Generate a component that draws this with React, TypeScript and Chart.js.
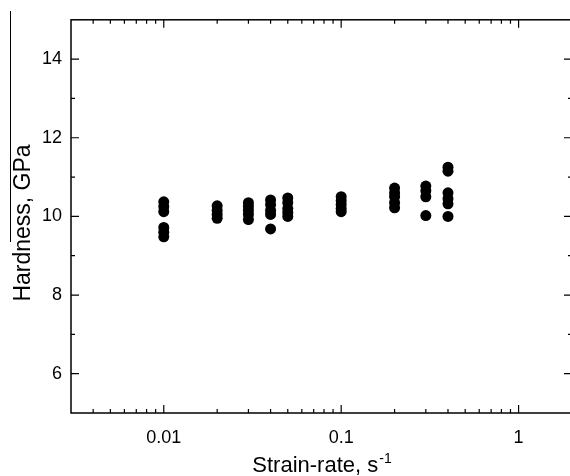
import React, { useEffect, useRef } from "react";
import { Chart, registerables } from "chart.js";

Chart.register(...registerables);

// Strain-rate categories (s^-1)
const strainRates = [0.01, 0.02, 0.03, 0.04, 0.05, 0.1, 0.2, 0.3, 0.4];
// Hardness values (GPa) measured at each strain rate
const h001 = [10.37, 10.25, 10.12, 9.72, 9.6, 9.48];
const h002 = [10.27, 10.15, 10.05, 9.95];
const h003 = [10.35, 10.25, 10.15, 10.05, 9.92];
const h004 = [10.42, 10.3, 10.15, 10.05, 9.68];
const h005 = [10.47, 10.35, 10.2, 10.1, 10.0];
const h010 = [10.5, 10.4, 10.3, 10.2, 10.12];
const h020 = [10.72, 10.6, 10.5, 10.35, 10.22];
const h030 = [10.77, 10.65, 10.5, 10.02];
const h040 = [11.25, 11.15, 10.6, 10.45, 10.32, 10.0];
const hardnessSets = [h001, h002, h003, h004, h005, h010, h020, h030, h040];

const xTickValues = [0.01, 0.1, 1];
const xTickLabels = ["0.01", "0.1", "1"];
const xMinorTicks = [
  0.004, 0.005, 0.006, 0.007, 0.008, 0.009,
  0.02, 0.03, 0.04, 0.05, 0.06, 0.07, 0.08, 0.09,
  0.2, 0.3, 0.4, 0.5, 0.6, 0.7, 0.8, 0.9,
];
const yTickValues = [6, 8, 10, 12, 14];
const yMinorTicks = [7, 9, 11, 13];

const xTitle = "Strain-rate, s";
const xTitleSup = "-1";
const yTitle = "Hardness, GPa";

const FONT = "'Liberation Sans', Arial, sans-serif";

export default function App() {
  const ref = useRef<HTMLCanvasElement | null>(null);

  useEffect(() => {
    document.body.style.margin = "0";
    const canvas = ref.current;
    if (!canvas) return;

    const points: { x: number; y: number }[] = [];
    strainRates.forEach((r, i) => {
      hardnessSets[i].forEach((h) => points.push({ x: r, y: h }));
    });

    const framePlugin = {
      id: "frame",
      afterDraw(chart: any) {
        const ctx = chart.ctx;
        const { left, right, top, bottom } = chart.chartArea;
        const xs = chart.scales.x;
        const ys = chart.scales.y;
        ctx.save();
        ctx.strokeStyle = "#000";
        ctx.lineWidth = 1.5;
        ctx.strokeRect(left, top, right - left, bottom - top);
        ctx.lineWidth = 1.2;
        ctx.beginPath();
        const xt = (v: number, len: number) => {
          const px = xs.getPixelForValue(v);
          ctx.moveTo(px, bottom);
          ctx.lineTo(px, bottom - len);
          ctx.moveTo(px, top);
          ctx.lineTo(px, top + len);
        };
        xTickValues.forEach((v) => xt(v, 8));
        xMinorTicks.forEach((v) => xt(v, 4));
        const yt = (v: number, len: number) => {
          const py = ys.getPixelForValue(v);
          ctx.moveTo(left, py);
          ctx.lineTo(left + len, py);
          ctx.moveTo(right, py);
          ctx.lineTo(right - len, py);
        };
        yTickValues.forEach((v) => yt(v, 8));
        yMinorTicks.forEach((v) => yt(v, 4));
        ctx.stroke();

        // axis titles
        ctx.fillStyle = "#000";
        ctx.textBaseline = "alphabetic";
        ctx.font = `22px ${FONT}`;
        const mainW = ctx.measureText(xTitle).width;
        ctx.font = `14px ${FONT}`;
        const supW = ctx.measureText(xTitleSup).width;
        const cx = (left + right) / 2;
        const startX = cx - (mainW + supW) / 2;
        const baseY = 472;
        ctx.font = `22px ${FONT}`;
        ctx.textAlign = "left";
        ctx.fillText(xTitle, startX, baseY);
        ctx.font = `14px ${FONT}`;
        ctx.fillText(xTitleSup, startX + mainW + 1, baseY - 9);

        ctx.save();
        ctx.translate(30, 223);
        ctx.rotate(-Math.PI / 2);
        ctx.font = `23px ${FONT}`;
        ctx.textAlign = "center";
        ctx.fillText(yTitle, 0, 0);
        ctx.restore();
        ctx.restore();
      },
    };

    const chart = new Chart(canvas, {
      type: "scatter",
      data: {
        datasets: [
          {
            data: points,
            backgroundColor: "#000",
            borderColor: "#000",
            pointRadius: 5.5,
            pointHoverRadius: 5.5,
            borderWidth: 0,
          },
        ],
      },
      options: {
        animation: false,
        responsive: false,
        devicePixelRatio: 1,
        layout: { padding: { top: 12, right: 8, left: 0, bottom: 0 } },
        plugins: { legend: { display: false }, tooltip: { enabled: false } },
        scales: {
          x: {
            type: "logarithmic",
            min: 0.003,
            max: 2,
            grid: { display: false, drawTicks: false },
            border: { display: false },
            afterBuildTicks: (s: any) => {
              s.ticks = xTickValues.map((v) => ({ value: v }));
            },
            afterFit: (s: any) => {
              s.height = 63;
            },
            ticks: {
              padding: 14,
              color: "#000",
              maxRotation: 0,
              autoSkip: false,
              font: { family: FONT, size: 18 },
              callback: (v: any) => {
                const i = xTickValues.indexOf(Number(v));
                return i >= 0 ? xTickLabels[i] : "";
              },
            },
          },
          y: {
            type: "linear",
            min: 5,
            max: 15,
            grid: { display: false, drawTicks: false },
            border: { display: false },
            afterBuildTicks: (s: any) => {
              s.ticks = yTickValues.map((v) => ({ value: v }));
            },
            afterFit: (s: any) => {
              s.width = 71;
            },
            ticks: {
              padding: 9,
              color: "#000",
              font: { family: FONT, size: 18 },
              callback: (v: any) => String(v),
            },
          },
        },
      },
      plugins: [framePlugin],
    });
    return () => chart.destroy();
  }, []);

  return (
    <div
      style={{
        position: "absolute",
        left: 0,
        top: 0,
        width: 570,
        height: 476,
        overflow: "hidden",
        background: "#fff",
      }}
    >
      <canvas ref={ref} width={580} height={476} style={{ display: "block" }} />
      <div
        style={{
          position: "absolute",
          left: 10,
          top: 11,
          width: 1,
          height: 231,
          background: "#000",
        }}
      />
    </div>
  );
}
